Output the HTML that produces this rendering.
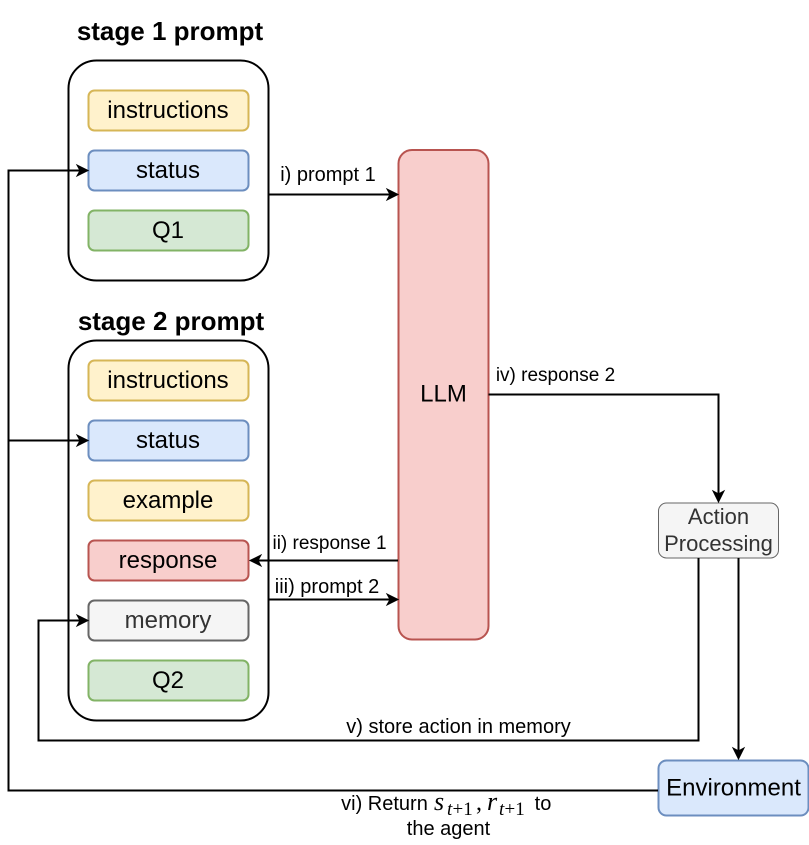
<!DOCTYPE html>
<html>
<head>
<meta charset="utf-8">
<style>
html,body{margin:0;padding:0;background:#fff;width:809px;height:845px;overflow:hidden}
svg{display:block}
text{font-family:"Liberation Sans",Arial,sans-serif;fill:#000}
.n{font-size:24px;text-anchor:middle}
.l{font-size:20px;text-anchor:middle}
.l2{font-size:19px;text-anchor:middle}
.h{font-size:26px;font-weight:bold;text-anchor:middle}
.m{font-family:"Liberation Serif",serif;font-style:italic}
.r{font-family:"Liberation Serif",serif}
.w{fill:none;stroke:#000;stroke-width:2}
</style>
</head>
<body>
<svg width="809" height="845" viewBox="0 0 809 845" xmlns="http://www.w3.org/2000/svg">
<rect width="809" height="845" fill="#fff"/>

<text class="h" x="170" y="40">stage 1 prompt</text>
<text class="h" x="171" y="330">stage 2 prompt</text>

<rect x="68.500" y="60.500" width="200" height="220" rx="28" fill="#fff" stroke="#000" stroke-width="2"/>
<rect x="68.500" y="340.500" width="200" height="380" rx="28" fill="#fff" stroke="#000" stroke-width="2"/>

<g stroke-width="2">
<rect x="88.500" y="90.500" width="160" height="40" rx="6" fill="#fff2cc" stroke="#d6b656"/>
<rect x="88.500" y="150.500" width="160" height="40" rx="6" fill="#dae8fc" stroke="#6c8ebf"/>
<rect x="88.500" y="210.500" width="160" height="40" rx="6" fill="#d5e8d4" stroke="#82b366"/>
<rect x="88.500" y="360.500" width="160" height="40" rx="6" fill="#fff2cc" stroke="#d6b656"/>
<rect x="88.500" y="420.500" width="160" height="40" rx="6" fill="#dae8fc" stroke="#6c8ebf"/>
<rect x="88.500" y="480.500" width="160" height="40" rx="6" fill="#fff2cc" stroke="#d6b656"/>
<rect x="88.500" y="540.500" width="160" height="40" rx="6" fill="#f8cecc" stroke="#b85450"/>
<rect x="88.500" y="600.500" width="160" height="40" rx="6" fill="#f5f5f5" stroke="#666666"/>
<rect x="88.500" y="660.500" width="160" height="40" rx="6" fill="#d5e8d4" stroke="#82b366"/>
<rect x="398.500" y="150" width="90" height="489.500" rx="13.500" fill="#f8cecc" stroke="#b85450"/>
</g>
<rect x="658.500" y="503" width="120" height="55" rx="8" fill="#f5f5f5" stroke="#666666" stroke-width="1"/>
<rect x="658.500" y="760.500" width="150" height="55" rx="8" fill="#dae8fc" stroke="#6c8ebf" stroke-width="2"/>

<text class="n" x="168" y="118">instructions</text>
<text class="n" x="168" y="178">status</text>
<text class="n" x="168" y="238">Q1</text>
<text class="n" x="168" y="388">instructions</text>
<text class="n" x="168" y="448">status</text>
<text class="n" x="168" y="508">example</text>
<text class="n" x="168" y="568">response</text>
<text class="n" x="168" y="628" style="fill:#333">memory</text>
<text class="n" x="168" y="688">Q2</text>
<text class="n" x="443.500" y="401.500">LLM</text>
<text x="718.500" y="524" style="fill:#333;font-size:22px;text-anchor:middle">Action</text>
<text x="718.500" y="551" style="fill:#333;font-size:22px;text-anchor:middle">Processing</text>
<text class="n" x="733.500" y="795.500">Environment</text>

<!-- connectors -->
<path class="w" d="M658 790.500H8.500V170.500H80"/>
<path class="w" d="M8.500 440.500H80"/>
<path class="w" d="M268.500 194.500H391"/>
<path class="w" d="M398 560.500H257"/>
<path class="w" d="M268.500 599.500H391"/>
<path class="w" d="M488.500 394.500H718.500V495"/>
<path class="w" d="M698.500 558V740.500H38.500V620.500H80"/>
<path class="w" d="M738.500 558V752"/>

<!-- arrowheads -->
<g fill="#000" stroke="#000" stroke-width="1">
<path d="M88 170.500L77 165L80 170.500L77 176Z"/>
<path d="M88 440.500L77 435L80 440.500L77 446Z"/>
<path d="M88 620.500L77 615L80 620.500L77 626Z"/>
<path d="M398 194.500L387 189L390 194.500L387 200Z"/>
<path d="M398 599.500L387 594L390 599.500L387 605Z"/>
<path d="M250 560.500L261 555L258 560.500L261 566Z"/>
<path d="M718.500 502L713 491L718.500 494L724 491Z"/>
<path d="M738.500 759L733 748L738.500 751L744 748Z"/>
</g>

<!-- labels -->
<text class="l" x="328" y="181">i) prompt 1</text>
<text class="l2" x="329.500" y="549">ii) response 1</text>
<text class="l" x="327" y="593">iii) prompt 2</text>
<text class="l2" x="555.500" y="381">iv) response 2</text>
<text class="l" x="458.500" y="733">v) store action in memory</text>
<text class="l" x="384.500" y="810">vi) Return</text>
<text class="m" font-size="26" x="434" y="810">s</text>
<text class="m" font-size="19" x="447" y="815">t</text>
<text class="r" font-size="19" x="452.500" y="815">+1</text>
<text class="r" font-size="24" x="476" y="810">,</text>
<text class="m" font-size="26" x="487" y="810">r</text>
<text class="m" font-size="19" x="499" y="815">t</text>
<text class="r" font-size="19" x="504.500" y="815">+1</text>
<text class="l" x="543" y="810">to</text>
<text class="l" x="448.500" y="835">the agent</text>
</svg>
</body>
</html>
